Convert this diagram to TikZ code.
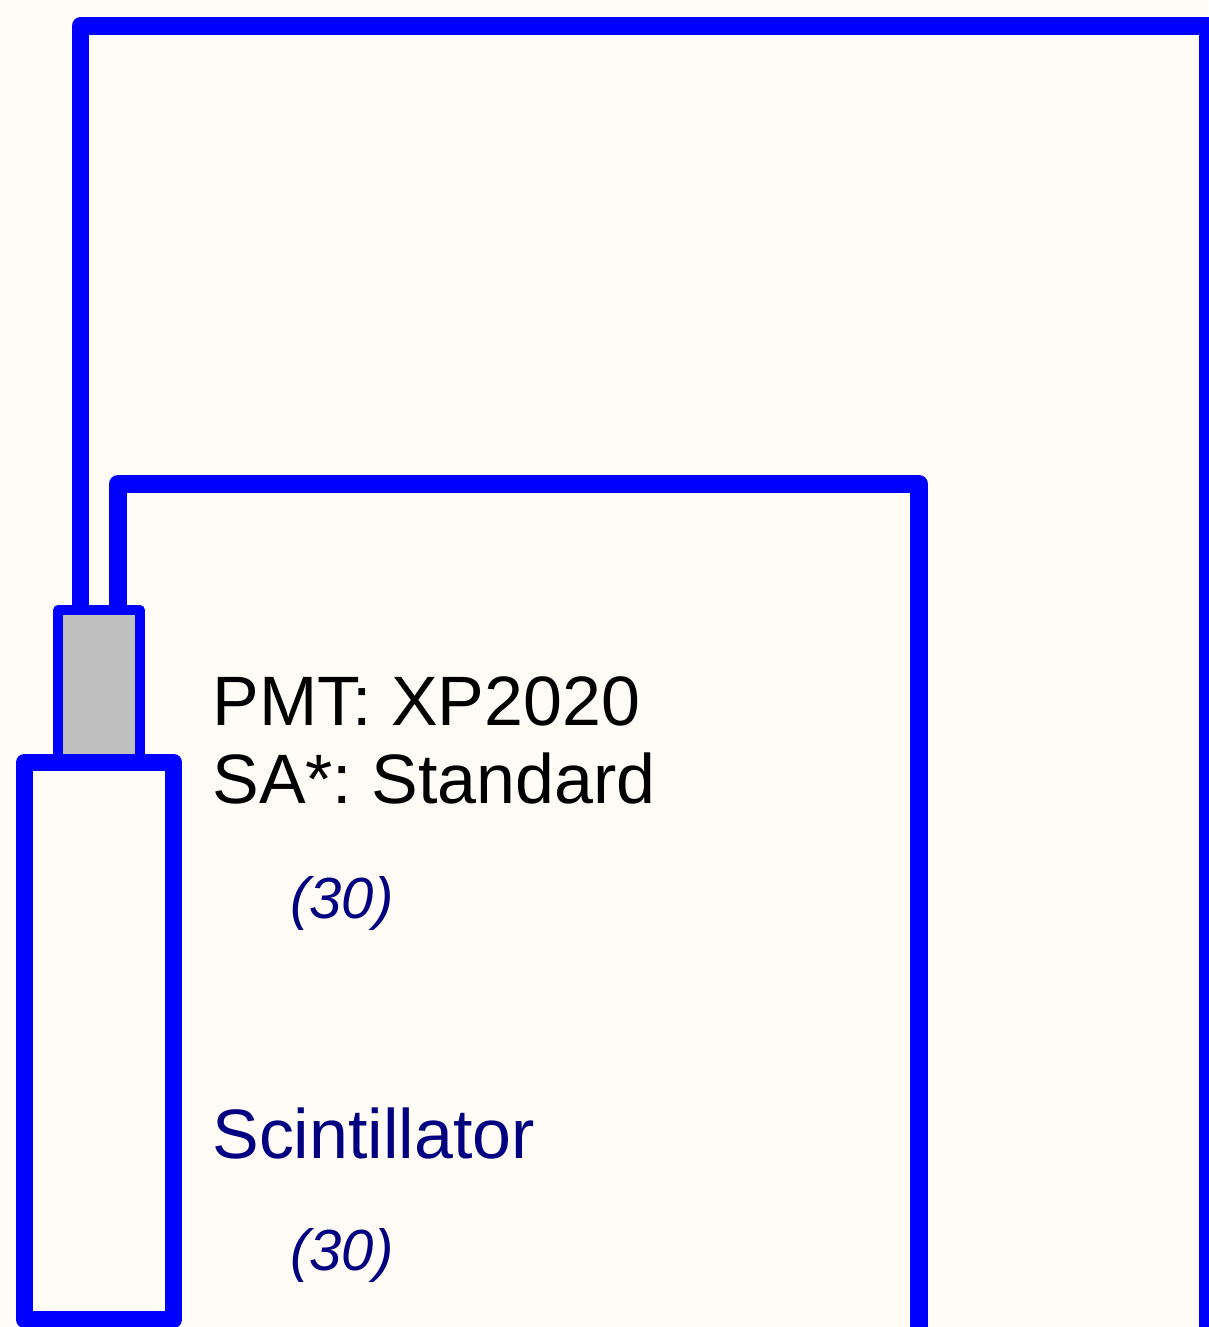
\documentclass[tikz,border=0pt]{standalone}
\usepackage{fontspec}
\setmainfont{Liberation Sans}
\usetikzlibrary{positioning}
\usetikzlibrary{calc}

\definecolor{paper}{HTML}{FFFCF7}
\definecolor{wireblue}{HTML}{0000FF}
\definecolor{txtnavy}{HTML}{000080}
\definecolor{tubegrey}{HTML}{C0C0C0}

\tikzset{
  wire/.style={draw=wireblue, line width=10.2pt, line join=round},
  box/.style={draw=wireblue, line join=round, inner sep=0pt, outer sep=0pt},
  lbl/.style={anchor=base west, inner sep=0pt, font=\fontsize{39.8}{44}\selectfont\frenchspacing},
  cnt/.style={anchor=base west, inner sep=0pt, text=txtnavy, font=\fontsize{33}{38}\selectfont\itshape}
}

\begin{document}
\begin{tikzpicture}[y=-1cm]

	\fill[paper] (0,0) rectangle (24.16,26.54);
	\useasboundingbox (0,0) rectangle (24.16,26.54);

	% corners of the two wires
	\coordinate (oT) at (1.61,0.52);
	\coordinate (oR) at (24.16,27.2);
	\coordinate (iT) at (2.36,9.68);
	\coordinate (iR) at (18.38,27.2);

	% tube and scintillator
	\node[box, fill=tubegrey, line width=5.7pt, minimum width=1.63cm, minimum height=3.04cm] (pmt) at (1.98,13.72) {};
	\node[box, fill=paper, line width=9.6pt, minimum width=2.99cm, minimum height=11.15cm] (scint) at (1.98,20.82) {};

	\draw[wire] (pmt.north -| oT) |- (oT) -| (oR);
	\draw[wire] (pmt.north -| iT) |- (iT) -| (iR);

	% labels
	\node[lbl] (pmtlbl) at (4.24,14.50) {PMT: XP2020};
	\node[lbl] (salbl) at (4.24,16.06) {SA*: Standard};
	\node[cnt] (n1) at (5.80,18.36) {(30)};
	\node[lbl, text=txtnavy] (sclbl) at (4.24,23.16) {Scintillator};
	\node[cnt] (n2) at (5.80,25.40) {(30)};

\end{tikzpicture}
\end{document}
